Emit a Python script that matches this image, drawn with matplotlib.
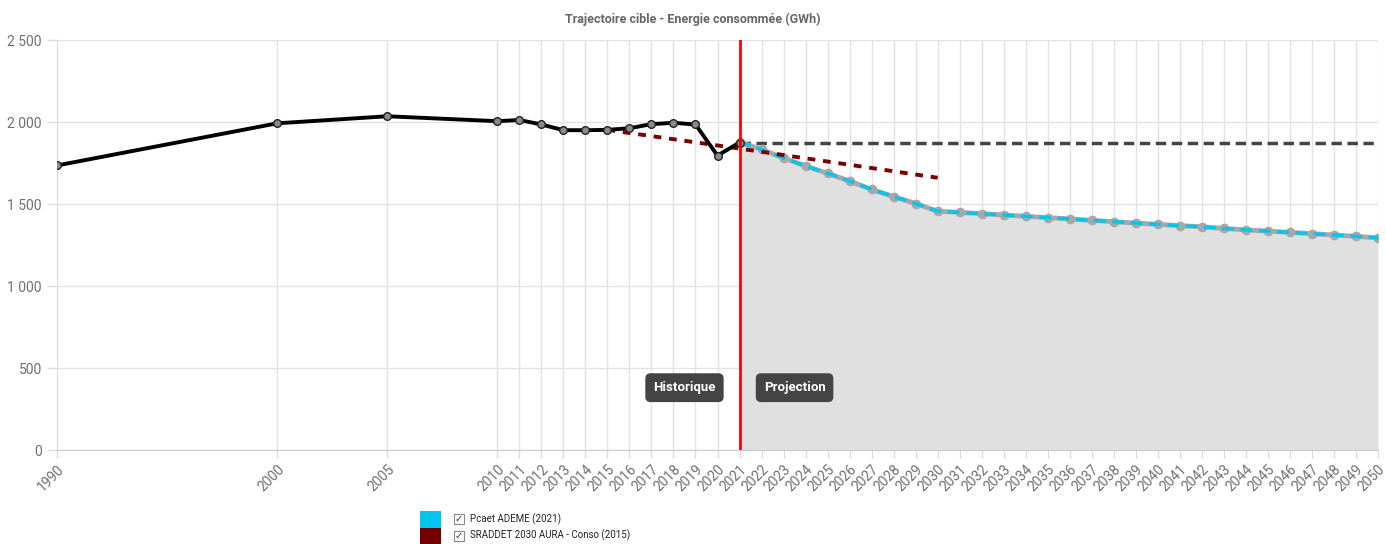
import matplotlib
matplotlib.use("Agg")
import matplotlib.pyplot as plt
from matplotlib.patches import Rectangle
from matplotlib.ticker import FuncFormatter

plt.rcParams['font.family'] = ['Roboto', 'DejaVu Sans']

# Historical consumption (GWh)
hist_years = [1990, 2000, 2005, 2010, 2011, 2012, 2013, 2014, 2015, 2016, 2017, 2018, 2019, 2020, 2021]
hist_values = [1735, 1992, 2035, 2005, 2012, 1985, 1950, 1950, 1952, 1962, 1987, 1995, 1985, 1795, 1875]

# Pcaet ADEME (2021) projection
pcaet_years = list(range(2021, 2051))
pcaet_values = [1877, 1833, 1780, 1732, 1687, 1640, 1589, 1545, 1503, 1456,
                1449, 1441, 1433, 1425, 1417, 1409, 1400, 1392, 1384, 1376,
                1368, 1361, 1351, 1342, 1335, 1327, 1319, 1311, 1303, 1293]

# SRADDET 2030 AURA - Conso (2015)
sraddet_years = [2015, 2021, 2030]
sraddet_values = [1952, 1838, 1660]

# Constant reference (2021 level)
flat_years = [2021, 2050]
flat_values = [1875, 1875]

tick_years = [1990, 2000, 2005] + list(range(2010, 2051))
title = "Trajectoire cible - Energie consommée (GWh)"
legend_labels = ["Pcaet ADEME (2021)", "SRADDET 2030 AURA - Conso (2015)"]
legend_colors = ["#00c5ee", "#730000"]

W, H = 1386, 544
fig = plt.figure(figsize=(W / 100, H / 100), dpi=100)
ax = fig.add_axes([57 / W, 94 / H, (1378 - 57) / W, (450 - 40) / H])

ax.set_xlim(1990, 2050)
ax.set_ylim(0, 2500)

# fill under projection
ax.fill_between(pcaet_years, pcaet_values, 0, color="#e0e0e0", zorder=1, lw=0)

# grid
ax.set_xticks(tick_years)
ax.set_yticks(range(0, 2501, 500))
ax.grid(True, color="#e3e3e3", lw=1, zorder=0)
ax.set_axisbelow(True)

ax.yaxis.set_major_formatter(FuncFormatter(lambda v, p: f"{int(v):,}".replace(",", " ")))
ax.tick_params(axis='y', colors="#dddddd", labelcolor="#707070", labelsize=10, length=7, width=1, pad=4)
ax.tick_params(axis='x', colors="#dddddd", labelcolor="#707070", labelsize=10, length=6, width=1, pad=3)
for lbl in ax.get_xticklabels():
    lbl.set_rotation(45)
    lbl.set_ha('right')
    lbl.set_va('top')
    lbl.set_rotation_mode('anchor')

for s in ['top', 'right']:
    ax.spines[s].set_visible(False)
ax.spines['left'].set_color("#dddddd")
ax.spines['bottom'].set_color("#cccccc")

# flat dashed line
ax.plot(flat_years, flat_values, color="#444444", lw=2.5, ls=(0, (3, 1.6)), zorder=3)

# Pcaet projection: gray base + cyan dashes
ax.plot(pcaet_years, pcaet_values, color="#a8a8a8", lw=3.5, zorder=4,
        marker='o', ms=6, mfc="#a8a8a8", mec="#a8a8a8")
ax.plot(pcaet_years, pcaet_values, color="#00c5ee", lw=2.4, ls=(0, (3.5, 2)), zorder=5)

# SRADDET dotted line
ax.plot(sraddet_years, sraddet_values, color="#7a0000", lw=2.8, ls=(0, (2, 2)), zorder=5)

# historical
ax.plot(hist_years, hist_values, color="#000000", lw=2.8, zorder=6,
        marker='o', ms=5.5, mfc="#8a8a8a", mec="#222222", mew=1)

# red vertical line at 2021
ax.axvline(2021, color="#ff0000", lw=2, zorder=7)

# labels
box = dict(boxstyle="round,pad=0.6,rounding_size=0.4", fc="#444444", ec="none")
ax.text(2018.5, 380, "Historique", color="white", fontsize=9.5, fontweight='bold',
        ha='center', va='center', bbox=box, zorder=8)
ax.text(2023.5, 380, "Projection", color="white", fontsize=9.5, fontweight='bold',
        ha='center', va='center', bbox=box, zorder=8)

fig.text(0.5, 1 - 19 / H, title, ha='center', va='center', color="#666666",
         fontsize=9, fontweight='bold')

# legend
for i, (lab, col) in enumerate(zip(legend_labels, legend_colors)):
    y0 = 511 + i * 16.5
    fig.patches.append(Rectangle((420 / W, 1 - (y0 + 16.5) / H), 21 / W, 16.5 / H,
                                 transform=fig.transFigure, fc=col, ec='none'))
    fig.patches.append(Rectangle((454 / W, 1 - (y0 + 13) / H), 10 / W, 10 / H,
                                 transform=fig.transFigure, fc='white', ec='#888888', lw=0.8))
    fig.text(459 / W, 1 - (y0 + 8) / H, "✓", ha='center', va='center', fontsize=7,
             color="#333333", family=['DejaVu Sans'])
    fig.text(470 / W, 1 - (y0 + 8) / H, lab, ha='left', va='center', fontsize=7, color="#222222")

fig.savefig("out.png", dpi=100)
